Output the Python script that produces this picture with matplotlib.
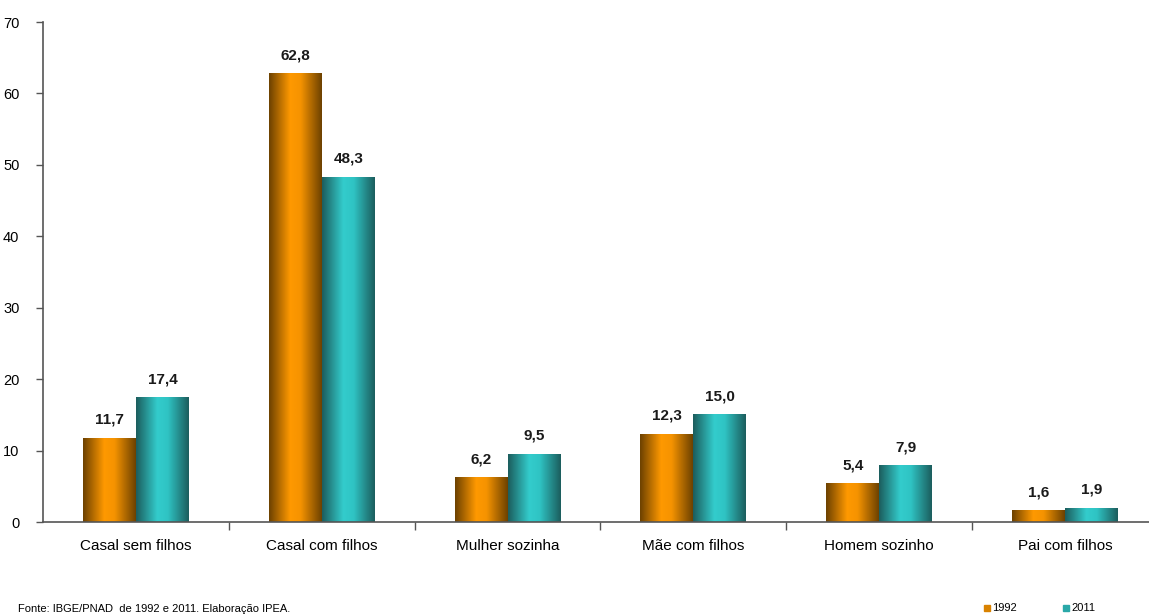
import numpy as np
import matplotlib.pyplot as plt
from matplotlib.colors import LinearSegmentedColormap

plt.rcParams['font.family'] = ['Liberation Sans', 'DejaVu Sans']

categories = ['Casal sem filhos', 'Casal com filhos', 'Mulher sozinha',
              'Mãe com filhos', 'Homem sozinho', 'Pai com filhos']
v1992 = [11.7, 62.8, 6.2, 12.3, 5.4, 1.6]
v2011 = [17.4, 48.3, 9.5, 15.0, 7.9, 1.9]
labels1992 = ['11,7', '62,8', '6,2', '12,3', '5,4', '1,6']
labels2011 = ['17,4', '48,3', '9,5', '15,0', '7,9', '1,9']

fig = plt.figure(figsize=(11.49, 6.14), dpi=100)
ax = fig.add_axes([43 / 1149, 92 / 614, 1115 / 1149, 500 / 614])

# cylinder-like shading across each bar
orange = LinearSegmentedColormap.from_list('o', [(0, '#6e4200'), (0.4, '#ff9900'),
                                                 (0.6, '#f59300'), (1, '#6e4200')])
teal = LinearSegmentedColormap.from_list('t', [(0, '#1c5e5e'), (0.4, '#33cccc'),
                                               (0.6, '#2fc4c4'), (1, '#1c5e5e')])
grad = np.linspace(0, 1, 100).reshape(1, -1)

x = np.arange(len(categories))
w = 0.285
for vals, labs, off, cmap in [(v1992, labels1992, -w / 2, orange),
                              (v2011, labels2011, w / 2, teal)]:
    bars = ax.bar(x + off, vals, w, color='none', edgecolor='none')
    for b, lab in zip(bars, labs):
        x0 = b.get_x()
        h = b.get_height()
        ax.imshow(grad, cmap=cmap, aspect='auto', extent=[x0, x0 + w, 0, h],
                  zorder=2, interpolation='bilinear')
        ax.text(x0 + w / 2, h + 1.6, lab, ha='center', va='bottom',
                fontsize=11, fontweight='bold', color='#1a1a1a')

ax.set_xlim(-0.5, len(categories) - 0.5)
ax.set_ylim(0, 70)
ax.set_yticks(range(0, 71, 10))
ax.set_xticks(x)
ax.set_xticklabels(categories, fontsize=11)
ax.set_xticks(np.arange(0.5, len(categories) - 0.5, 1), minor=True)
ax.tick_params(axis='x', which='major', length=0, pad=12)
ax.tick_params(axis='x', which='minor', length=6, width=1, color='#555555')
ax.tick_params(axis='y', length=5, width=1, color='#555555', labelsize=10.5, pad=12)
for s in ['top', 'right']:
    ax.spines[s].set_visible(False)
for s in ['left', 'bottom']:
    ax.spines[s].set_color('#555555')
    ax.spines[s].set_linewidth(1.2)

fig.text(18 / 1149, 1 - 609 / 614, 'Fonte: IBGE/PNAD  de 1992 e 2011. Elaboração IPEA.',
         fontsize=8, va='center')
fig.patches.append(plt.Rectangle((984 / 1149, 1 - 611 / 614), 6 / 1149, 6 / 614,
                                 transform=fig.transFigure, color='#d98200'))
fig.text(992 / 1149, 1 - 608 / 614, '1992', fontsize=8, va='center')
fig.patches.append(plt.Rectangle((1063 / 1149, 1 - 611 / 614), 6 / 1149, 6 / 614,
                                 transform=fig.transFigure, color='#2aa8a8'))
fig.text(1071 / 1149, 1 - 608 / 614, '2011', fontsize=8, va='center')

fig.savefig('out.png', dpi=100)
